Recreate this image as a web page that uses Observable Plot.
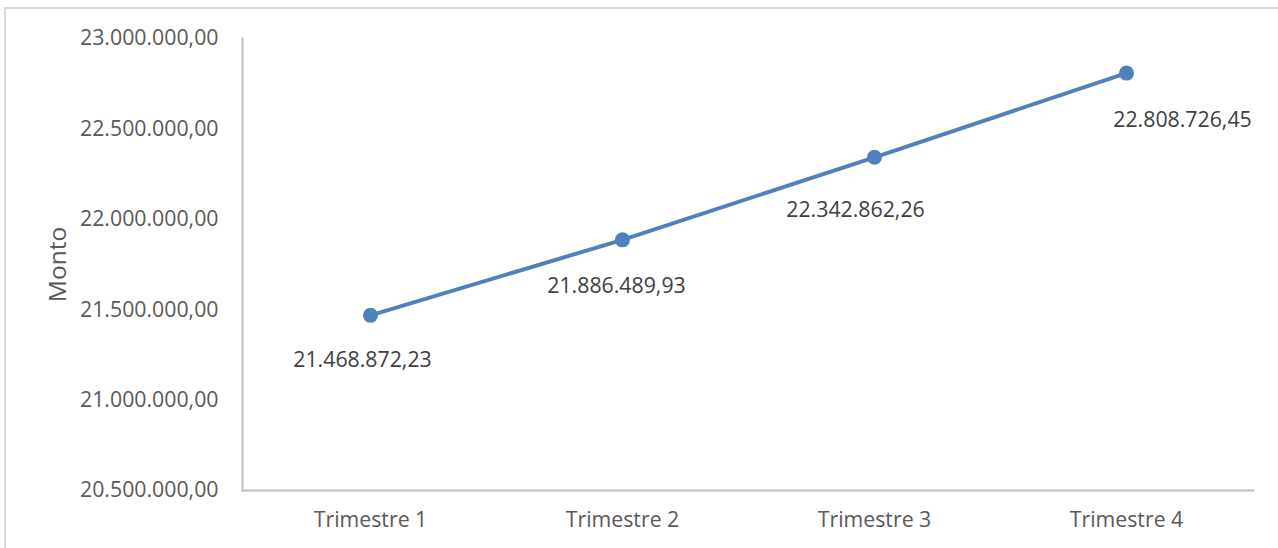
<!DOCTYPE html>
<html>
<head>
<meta charset="utf-8">
<script src="https://cdn.jsdelivr.net/npm/d3@7"></script>
<script src="https://cdn.jsdelivr.net/npm/@observablehq/plot@0.6"></script>
<style>
  html, body { margin: 0; padding: 0; background: #fff; overflow: hidden; }
  #wrap { position: relative; width: 1278px; height: 548px; }
  #border { position: absolute; left: 4px; top: 7px; width: 1400px; height: 700px;
            border-left: 2px solid #d9d9d9; border-top: 2px solid #d9d9d9; pointer-events: none; }
  svg { font-family: "Open Sans", sans-serif; }
</style>
</head>
<body>
<div id="wrap"><div id="border"></div></div>
<script>
const categories = ["Trimestre 1", "Trimestre 2", "Trimestre 3", "Trimestre 4"];
const montos = [21468872.23, 21886489.93, 22342862.26, 22808726.45];
const yTicks = [20500000, 21000000, 21500000, 22000000, 22500000, 23000000];
const yLabel = "Monto";

const data = categories.map((c, i) => ({trimestre: c, monto: montos[i], i}));
const fmt = d3.formatLocale({decimal: ",", thousands: ".", grouping: [3], currency: ["", ""]}).format(",.2f");

// label placement offsets (styling, like Excel's auto placement)
const labelOffsets = [[-8, 45], [-6, 46], [-19, 53], [56, 47]];

const textColor = "#595959";
const lineColor = "#4f81bd";
const fs = 21.3;

const chart = Plot.plot({
  width: 1278,
  height: 548,
  marginLeft: 242,
  marginRight: 25,
  marginTop: 38,
  marginBottom: 58,
  style: {fontFamily: "'Open Sans', sans-serif", fontSize: fs + "px", color: textColor, background: "transparent"},
  x: {type: "band", domain: categories, padding: 0, label: null},
  y: {domain: [20500000, 23000000], label: null},
  marks: [
    Plot.axisY({ticks: yTicks, tickFormat: fmt, tickSize: 0, tickPadding: 24, fontSize: fs, fill: textColor, label: null}),
    Plot.axisX({tickSize: 0, tickPadding: 21, fontSize: fs, fill: textColor, label: null}),
    Plot.frame({anchor: "bottom", stroke: "#bfbfbf", strokeWidth: 2}),
    Plot.frame({anchor: "left", stroke: "#bfbfbf", strokeWidth: 2}),
    Plot.line(data, {x: "trimestre", y: "monto", stroke: lineColor, strokeWidth: 4}),
    Plot.dot(data, {x: "trimestre", y: "monto", r: 7.5, fill: lineColor, stroke: "none"}),
    ...labelOffsets.map(([dx, dy], k) =>
      Plot.text(data.filter(d => d.i === k), {x: "trimestre", y: "monto", text: d => fmt(d.monto),
        dx, dy, fill: "#404040", fontSize: fs})),
    Plot.text([yLabel], {frameAnchor: "left", textAnchor: "middle", text: d => d, rotate: -90, dx: -184, dy: 0,
      fill: textColor, fontSize: 24.5})
  ]
});
document.getElementById("wrap").prepend(chart);
</script>
</body>
</html>
